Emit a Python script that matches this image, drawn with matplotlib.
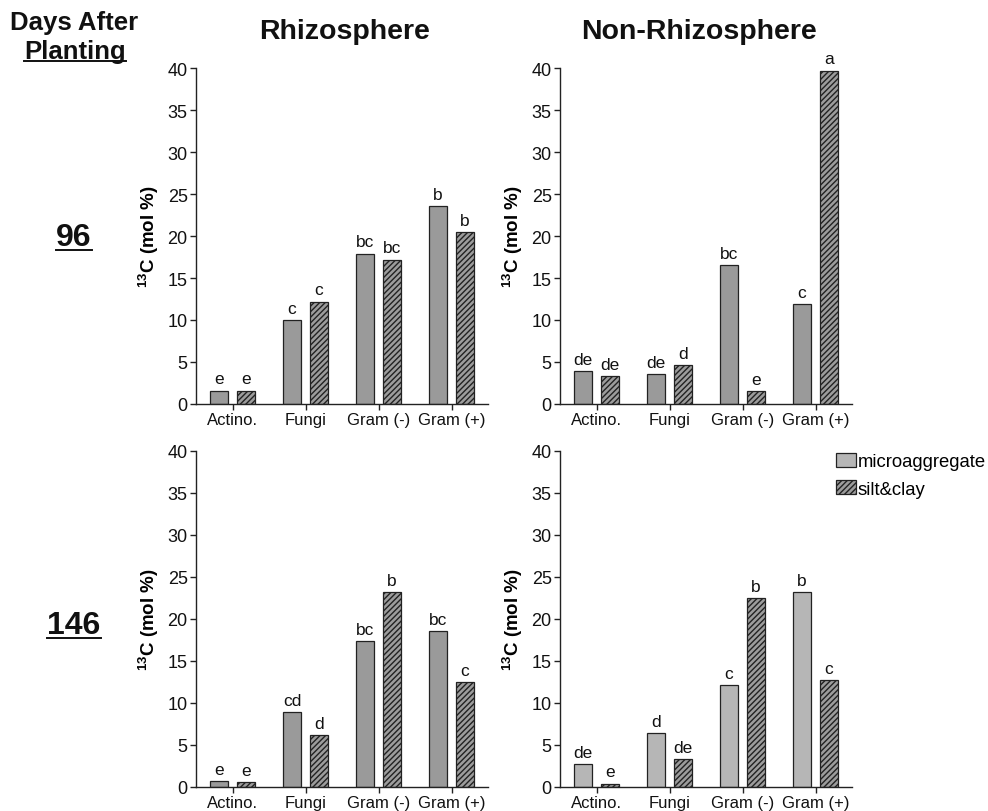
import numpy as np
import matplotlib
matplotlib.use('Agg')
import matplotlib.pyplot as plt
from matplotlib.lines import Line2D

plt.rcParams['font.family'] = ['Liberation Sans', 'DejaVu Sans']
plt.rcParams['mathtext.fontset'] = 'custom'
plt.rcParams['mathtext.rm'] = 'Liberation Sans'
plt.rcParams['mathtext.bf'] = 'Liberation Sans:bold'

categories = ['Actino.', 'Fungi', 'Gram (-)', 'Gram (+)']
series_names = ['microaggregate', 'silt&clay']

# 96 days after planting
rhizo_96_micro = [1.6, 10.0, 17.9, 23.6]
rhizo_96_silt = [1.6, 12.2, 17.2, 20.5]
rhizo_96_micro_let = ['e', 'c', 'bc', 'b']
rhizo_96_silt_let = ['e', 'c', 'bc', 'b']

nonrhizo_96_micro = [3.9, 3.6, 16.5, 11.9]
nonrhizo_96_silt = [3.3, 4.6, 1.5, 39.7]
nonrhizo_96_micro_let = ['de', 'de', 'bc', 'c']
nonrhizo_96_silt_let = ['de', 'd', 'e', 'a']

# 146 days after planting
rhizo_146_micro = [0.7, 8.9, 17.4, 18.6]
rhizo_146_silt = [0.6, 6.2, 23.2, 12.5]
rhizo_146_micro_let = ['e', 'cd', 'bc', 'bc']
rhizo_146_silt_let = ['e', 'd', 'b', 'c']

nonrhizo_146_micro = [2.7, 6.4, 12.1, 23.2]
nonrhizo_146_silt = [0.4, 3.3, 22.5, 12.7]
nonrhizo_146_micro_let = ['de', 'd', 'c', 'b']
nonrhizo_146_silt_let = ['e', 'de', 'b', 'c']

fig = plt.figure(figsize=(9.88, 8.12), dpi=100)

W = 988.0
H = 812.0
col_x = [196 / W, 560 / W]
row_y = [1 - 405 / H, 1 - 788 / H]
ax_w = 292 / W
ax_h = 336 / H


def draw_panel(ax, micro, silt, micro_let, silt_let, micro_color):
    x = np.arange(len(categories))
    bw = 0.25
    off = 0.185
    b1 = ax.bar(x - off, micro, bw, color=micro_color, edgecolor='#222222',
                linewidth=0.9, label=series_names[0])
    b2 = ax.bar(x + off, silt, bw, color='#9c9c9c', edgecolor='#222222',
                linewidth=0.9, hatch='//////', label=series_names[1])
    for bars, lets in ((b1, micro_let), (b2, silt_let)):
        for rect, lab in zip(bars, lets):
            ax.annotate(lab, (rect.get_x() + rect.get_width() / 2, rect.get_height()),
                        xytext=(0, 3), textcoords='offset points', ha='center',
                        va='bottom', fontsize=12.5, color='#111111', annotation_clip=False)
    ax.set_xlim(-0.5, 3.5)
    ax.set_ylim(0, 40)
    ax.set_yticks(range(0, 41, 5))
    ax.set_xticks(x)
    ax.set_xticklabels(categories)
    ax.spines['top'].set_visible(False)
    ax.spines['right'].set_visible(False)
    for s in ('left', 'bottom'):
        ax.spines[s].set_color('#222222')
        ax.spines[s].set_linewidth(1.0)
    ax.tick_params(axis='both', direction='out', length=4, width=1,
                   color='#222222', labelcolor='#111111', pad=2)
    ax.tick_params(axis='y', labelsize=13)
    ax.tick_params(axis='x', labelsize=12)
    ax.set_ylabel('$\\mathbf{^{13}C}$ (mol %)', fontsize=13.5, fontweight='bold', labelpad=5)
    return b1, b2


panels = [
    (0, 0, rhizo_96_micro, rhizo_96_silt, rhizo_96_micro_let, rhizo_96_silt_let, '#9a9a9a'),
    (0, 1, nonrhizo_96_micro, nonrhizo_96_silt, nonrhizo_96_micro_let, nonrhizo_96_silt_let, '#9a9a9a'),
    (1, 0, rhizo_146_micro, rhizo_146_silt, rhizo_146_micro_let, rhizo_146_silt_let, '#9a9a9a'),
    (1, 1, nonrhizo_146_micro, nonrhizo_146_silt, nonrhizo_146_micro_let, nonrhizo_146_silt_let, '#b6b6b6'),
]

axes = {}
for r, c, m, s, ml, sl, mc in panels:
    ax = fig.add_axes([col_x[c], row_y[r], ax_w, ax_h])
    axes[(r, c)] = ax
    draw_panel(ax, m, s, ml, sl, mc)

axes[(1, 1)].legend(loc='upper left', bbox_to_anchor=(0.945, 0.995), frameon=False,
                    fontsize=13.3, handlelength=1.1, handleheight=0.8,
                    handletextpad=0.08, borderpad=0, labelspacing=0.55,
                    borderaxespad=0)

# column titles
fig.text(345 / W, 1 - 32 / H, 'Rhizosphere', ha='center', va='center',
         fontsize=20.5, fontweight='bold', color='#111111')
fig.text(699 / W, 1 - 32 / H, 'Non-Rhizosphere', ha='center', va='center',
         fontsize=20.5, fontweight='bold', color='#111111')

# row labels
left_texts = []
fig.text(74 / W, 1 - 23 / H, 'Days After', ha='center', va='center',
         fontsize=18.5, fontweight='bold', color='#111111')
left_texts.append(fig.text(75 / W, 1 - 52 / H, 'Planting', ha='center', va='center',
                           fontsize=18.5, fontweight='bold', color='#111111'))
left_texts.append(fig.text(74 / W, 1 - 238 / H, '96', ha='center', va='center',
                           fontsize=23, fontweight='bold', color='#111111'))
left_texts.append(fig.text(74 / W, 1 - 626 / H, '146', ha='center', va='center',
                           fontsize=23, fontweight='bold', color='#111111'))

# underline the left labels
fig.canvas.draw()
renderer = fig.canvas.get_renderer()
for t in left_texts:
    bb = t.get_window_extent(renderer).transformed(fig.transFigure.inverted())
    fig.add_artist(Line2D([bb.x0, bb.x1], [bb.y0 + 0.002, bb.y0 + 0.002],
                          transform=fig.transFigure, color='#111111', lw=1.4))

fig.savefig('out.png', dpi=100)
